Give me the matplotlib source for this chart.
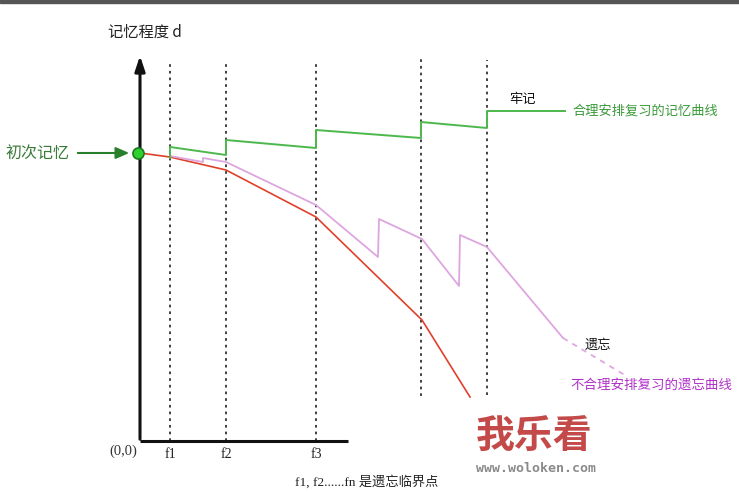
import matplotlib
matplotlib.use("Agg")
import matplotlib.pyplot as plt
from matplotlib.patches import Rectangle

plt.rcParams['font.family'] = ['Noto Sans CJK SC', 'DejaVu Sans']

# --- data (time t, memory level d; origin at (0,0)) ---
review_t = [30, 86, 176, 281, 347]
review_labels = ['f1', 'f2', 'f3', '', '']

forget_t = [0, 30, 86, 176, 282, 330]
forget_d = [288, 284, 271, 224, 121, 44]

good_t = [30, 30, 86, 86, 176, 176, 281, 281, 347, 347, 425]
good_d = [283, 294, 286, 301, 293, 311, 303, 319, 313, 330, 330]

bad_t = [30, 63, 63, 86, 176, 238, 239, 282, 319, 320, 347, 423]
bad_d = [285, 279, 283, 279, 236, 184, 222, 202, 155, 206, 194, 103]
bad_tail_t = [423, 488]
bad_tail_d = [103, 64]

start_t, start_d = 0, 288

fig = plt.figure(figsize=(7.39, 4.92), dpi=100)
fig.patch.set_facecolor('white')
ax = fig.add_axes([0, 0, 1, 1])
ax.set_xlim(-140, 599)
ax.set_ylim(-51, 441)
ax.axis('off')

# top dark strip
fig.add_artist(Rectangle((0, 1 - 3 / 492), 1, 3 / 492, transform=fig.transFigure,
                         color='#555555', zorder=10))

# dotted review lines
tops = [379, 379, 379, 384, 381]
bottoms = [0, 0, 0, 45, 46]
for t, top, bot in zip(review_t, tops, bottoms):
    ax.plot([t, t], [bot, top], color='#333333', lw=1.3, ls=(0, (1.5, 2.2)), zorder=1)

# axes lines
ax.plot([0, 208], [0, 0], color='#111111', lw=2.2, solid_capstyle='butt', zorder=3)
ax.annotate('', xy=(0, 388), xytext=(0, -1),
            arrowprops=dict(arrowstyle='-|>,head_length=0.9,head_width=0.3',
                            color='#111111', lw=2.2), zorder=3)

# curves
ax.plot(forget_t, forget_d, color='#e0402a', lw=1.2, zorder=4)
ax.plot(bad_t, bad_d, color='#dda6e0', lw=1.3, zorder=4)
ax.plot(bad_tail_t, bad_tail_d, color='#dda6e0', lw=1.3, ls=(0, (3, 3)), zorder=4)
ax.plot(good_t, good_d, color='#4cb84c', lw=1.4, zorder=5)

# start point
ax.plot([start_t - 2], [start_d], 'o', ms=8, mfc='#2ed12e', mec='#1d7a1d', mew=1.2, zorder=6)
ax.annotate('', xy=(-8, 288), xytext=(-65, 288),
            arrowprops=dict(arrowstyle='-|>,head_length=0.8,head_width=0.35',
                            color='#2a7f2a', lw=1.5))
ax.text(-103, 288, '初次记忆', color='#3a7a3a', fontsize=11.5, ha='center', va='center')

# labels
ax.text(4.5, 409, '记忆程度 d', color='#222222', fontsize=11, ha='center', va='center')
ax.text(-3, -10, '(0,0)', color='#333333', fontsize=10.5, ha='right', va='center',
        family=['Liberation Serif', 'DejaVu Serif'])
for t, lab in zip(review_t, review_labels):
    if lab:
        ax.text(t, -14, lab, color='#222222', fontsize=10, ha='center', va='center',
                family=['Liberation Serif', 'DejaVu Serif'])

ax.text(382, 341, '牢记', color='#111111', fontsize=9.5, ha='center', va='center')
ax.text(432, 330, '合理安排复习的记忆曲线', color='#3a9a3a', fontsize=9.5,
        ha='left', va='center')
ax.text(458, 96, '遗忘', color='#111111', fontsize=9.5, ha='center', va='center')
ax.text(430, 56, '不合理安排复习的遗忘曲线', color='#b030c8', fontsize=9.7,
        ha='left', va='center')

ax.text(155, -41, 'f1, f2......fn 是遗忘临界点', color='#222222', fontsize=9.5,
        ha='left', va='center', family=['Liberation Serif', 'Noto Sans CJK SC'])

# watermark
ax.text(394, 4, '我乐看', color='#c44a4a', fontsize=28, fontweight='bold',
        ha='center', va='center')
ax.text(396, -27, 'www.woloken.com', color='#8a8a8a', fontsize=9.5, fontweight='bold',
        ha='center', va='center', family=['DejaVu Sans Mono'])

fig.savefig('out.png', dpi=100, facecolor='white')
